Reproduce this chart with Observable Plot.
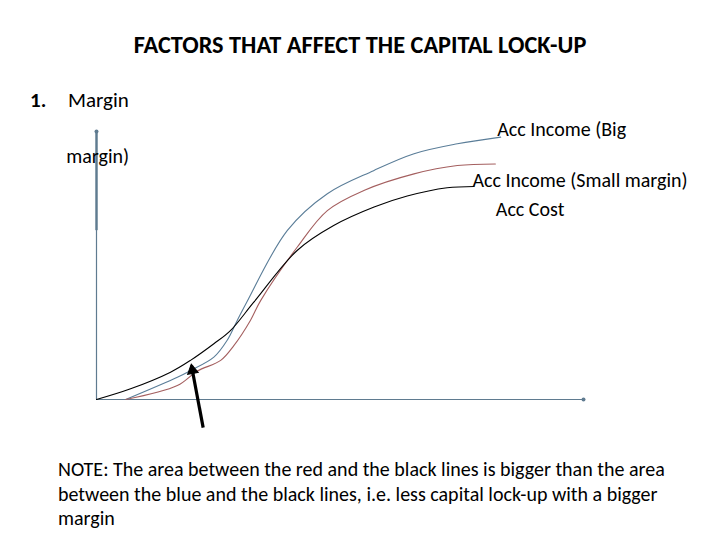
<!DOCTYPE html>
<html>
<head>
<meta charset="utf-8">
<script src="https://cdn.jsdelivr.net/npm/d3@7"></script>
<script src="https://cdn.jsdelivr.net/npm/@observablehq/plot@0.6"></script>
<style>
  html, body { margin: 0; padding: 0; background: #fff; }
  body { width: 720px; height: 540px; position: relative; overflow: hidden;
         font-family: Carlito, Calibri, Lato, "Open Sans", sans-serif; color: #000; }
  #title { position: absolute; top: 30px; left: 0; width: 720px; text-align: center;
           font-weight: bold; font-size: 24.3px; line-height: 30px; white-space: nowrap; z-index: 2; }
  #heading { position: absolute; top: 86px; left: 30px; font-size: 21px; line-height: 28px; white-space: nowrap; z-index: 2; }
  #heading b { display: inline-block; width: 38px; }
  #chart { position: absolute; top: 110px; left: 0; z-index: 1; }
  #note { position: absolute; top: 457px; left: 58px; width: 660px; font-size: 20px; line-height: 24.5px; white-space: nowrap; z-index: 2; }
</style>
</head>
<body>
<div id="title"></div>
<div id="heading"></div>
<div id="chart"></div>
<div id="note"></div>
<script>
// ---- data ----
const titleText = "FACTORS THAT AFFECT THE CAPITAL LOCK-UP";
const headingNumber = "1.";
const headingText = "Margin";
const noteLines = [
  "NOTE: The area between the red and the black lines is bigger than the area",
  "between the blue and the black lines, i.e. less capital lock-up with a bigger",
  "margin"
];

// Acc Income (Big margin) — blue
const bigX = [6.0, 16.6, 19.3, 24.1, 26.8, 28.9, 30.9, 39.2, 47.4, 56.9, 65.2, 74.1, 83.0];
const bigY = [0.0, 8.3, 10.8, 15.8, 22.0, 29.5, 36.5, 63.1, 76.8, 85.4, 91.7, 95.4, 97.9];

// Acc Income (Small margin) — red
const smallX = [6.0, 16.6, 20.7, 25.5, 28.2, 31.6, 33.7, 41.2, 47.4, 54.9, 65.2, 74.1, 81.9];
const smallY = [0.0, 5.2, 10.6, 14.6, 20.1, 29.5, 36.9, 56.8, 70.5, 78.0, 84.2, 87.3, 87.9];

// Acc Cost — black
const costX = [0.0, 7.0, 15.2, 19.3, 24.1, 27.5, 32.3, 41.2, 48.7, 57.0, 63.8, 72.0, 77.5];
const costY = [0.0, 4.0, 10.2, 14.6, 20.8, 25.7, 36.3, 55.6, 64.9, 71.8, 75.9, 79.0, 79.5];

// curve labels (text, anchor point in chart units)
const labelTexts = ["Acc Income (Big", "margin)", "Acc Income (Small margin)", "Acc Cost"];
const labelX = [82.3, -6.2, 77.2, 82.0];
const labelY = [98.5, 88.4, 79.2, 68.6];

// arrow pointing at the crossing region (chart units)
const arrowFrom = [21.9, -10.5];
const arrowTo = [19.5, 12.7];

// ---- build ----
document.getElementById("title").textContent = titleText;
document.getElementById("heading").innerHTML = "<b></b><span></span>";
document.querySelector("#heading b").textContent = headingNumber;
document.querySelector("#heading span").textContent = headingText;
const noteEl = document.getElementById("note");
noteLines.forEach((l, i) => {
  if (i) noteEl.appendChild(document.createElement("br"));
  noteEl.appendChild(document.createTextNode(l));
});

const toRows = (xs, ys) => xs.map((x, i) => ({x, y: ys[i]}));
const big = toRows(bigX, bigY);
const small = toRows(smallX, smallY);
const cost = toRows(costX, costY);
const labels = labelTexts.map((t, i) => ({t, x: labelX[i], y: labelY[i]}));
const arrowRow = [{x1: arrowFrom[0], y1: arrowFrom[1], x2: arrowTo[0], y2: arrowTo[1]}];

const axisColor = "#5f7b90";
const font = 'Carlito, Calibri, Lato, "Open Sans", sans-serif';

const chart = Plot.plot({
  width: 720,
  height: 330,
  marginLeft: 96,
  marginRight: 137,
  marginTop: 21,
  marginBottom: 41,
  x: {domain: [0, 100], axis: null},
  y: {domain: [0, 100], axis: null},
  style: {fontFamily: font, background: "transparent", overflow: "visible"},
  marks: [
    Plot.ruleY([0], {x1: 0, x2: 100, stroke: axisColor, strokeWidth: 1.2}),
    Plot.ruleX([0], {y1: 0, y2: 100, stroke: axisColor, strokeWidth: 1.2}),
    Plot.ruleX([0], {y1: 63, y2: 100, stroke: axisColor, strokeWidth: 2.4}),
    Plot.dot([{x: 0, y: 100}, {x: 100, y: 0}], {x: "x", y: "y", r: 2, fill: axisColor, stroke: null}),
    Plot.line(big, {x: "x", y: "y", stroke: "#5a7d98", strokeWidth: 1.1, curve: "catmull-rom"}),
    Plot.line(small, {x: "x", y: "y", stroke: "#a45f5f", strokeWidth: 1.1, curve: "catmull-rom"}),
    Plot.line(cost, {x: "x", y: "y", stroke: "#000", strokeWidth: 1.1, curve: "catmull-rom"}),
    Plot.text(labels, {x: "x", y: "y", text: "t", textAnchor: "start", lineAnchor: "bottom",
                       fontSize: 20, fill: "#000"}),
    Plot.link(arrowRow, {x1: "x1", y1: "y1", x2: "x2", y2: "y2", stroke: "#000", strokeWidth: 3.2}),
    Plot.dot(arrowRow, {x: "x2", y: "y2", symbol: "triangle", r: 4, fill: "#000", stroke: "#000",
                        strokeWidth: 1, rotate: -10.6, dx: 0.9, dy: 4.8})
  ]
});
document.getElementById("chart").appendChild(chart);
</script>
</body>
</html>
